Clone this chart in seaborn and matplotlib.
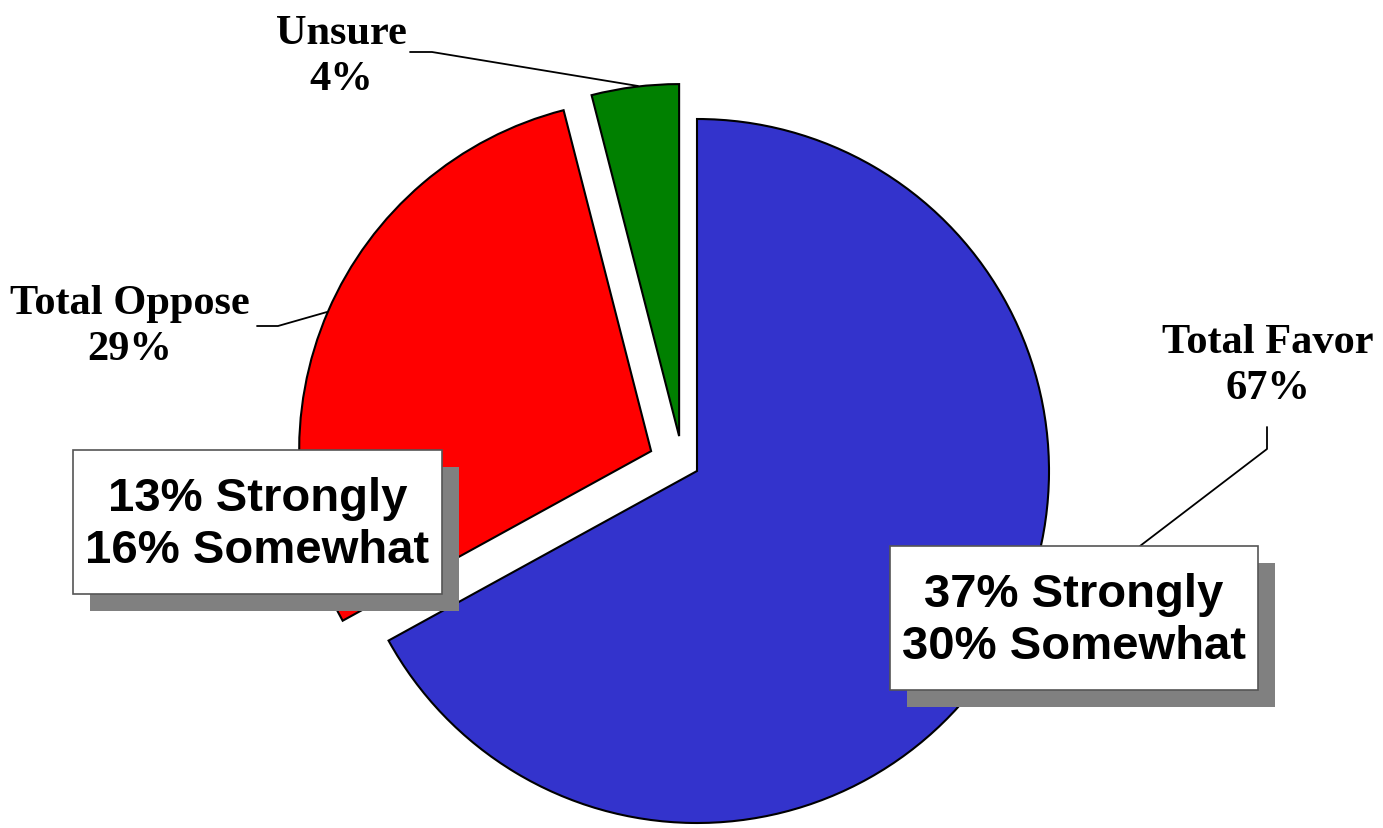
import matplotlib
matplotlib.use("Agg")
import matplotlib.pyplot as plt
import seaborn as sns

# data
labels = ["Total Favor", "Total Oppose", "Unsure"]
shares = [67, 29, 4]
colors = ["#3333CC", "#FF0000", "#008000"]
favor_detail = ["37% Strongly", "30% Somewhat"]
oppose_detail = ["13% Strongly", "16% Somewhat"]

sns.set_theme(style="white")
plt.rcParams["text.color"] = "black"

W, H = 1383, 829
fig = plt.figure(figsize=(W / 100, H / 100), dpi=100)
fig.patch.set_facecolor("white")

# pie centre / radius in pixels
cx, cy, r = 697, 472, 352
ax = fig.add_axes([0, 0, 1, 1])

wedges, _ = ax.pie(shares, colors=colors, startangle=90, counterclock=False,
                   explode=[0, 0.142, 0.11], radius=1,
                   wedgeprops=dict(edgecolor="black", linewidth=1.5))
# the Unsure slice is pulled out a bit more to the left than its bisector
wx, wy = wedges[2].center
wedges[2].set_center((wx - 0.037, wy - 0.01))

# pie() resets the limits, so set them afterwards
ax.set_xlim(-cx / r, (W - cx) / r)
ax.set_ylim(-(H - cy) / r, cy / r)
ax.set_aspect("equal")
ax.axis("off")


def fp(x, y):
    # pixel position -> figure fraction
    return x / W, 1 - y / H


serif = dict(family="Liberation Serif", fontweight="bold", fontsize=30.5,
             ha="center", va="center", linespacing=1.3, color="black")

# outer labels
fig.text(*fp(341, 57), f"{labels[2]}\n{shares[2]}%", **serif)
fig.text(*fp(130, 327), f"{labels[1]}\n{shares[1]}%", **serif)
fig.text(*fp(1268, 366), f"{labels[0]}\n{shares[0]}%", **serif)

# leader lines
leaders = [
    [(410, 53), (432, 53), (638, 87)],
    [(257, 327), (278, 327), (327, 313)],
    [(1267, 428), (1267, 450), (1140, 547)],
]
for pts in leaders:
    xs, ys = zip(*[fp(x, y) for x, y in pts])
    fig.add_artist(plt.Line2D(xs, ys, color="black", linewidth=1.3,
                              transform=fig.transFigure))

# detail boxes with drop shadow (pixel boxes: left, top, right, bottom)
boxes = [((73, 451, 442, 595), oppose_detail), ((890, 547, 1258, 691), favor_detail)]
for (x0, y0, x1, y1), lines in boxes:
    sh = 17
    fig.add_artist(plt.Rectangle(fp(x0 + sh, y1 + sh), (x1 - x0) / W, (y1 - y0) / H,
                                 transform=fig.transFigure, facecolor="#808080",
                                 edgecolor="none", zorder=4))
    fig.add_artist(plt.Rectangle(fp(x0, y1), (x1 - x0) / W, (y1 - y0) / H,
                                 transform=fig.transFigure, facecolor="white",
                                 edgecolor="#555555", linewidth=1.2, zorder=5))
    fig.text(*fp((x0 + x1) / 2, (y0 + y1) / 2 + 2), "\n".join(lines),
             family="Liberation Sans", fontweight="bold", fontsize=34,
             ha="center", va="center", linespacing=1.22, color="black", zorder=6)

fig.savefig("out.png", dpi=100, facecolor="white")
